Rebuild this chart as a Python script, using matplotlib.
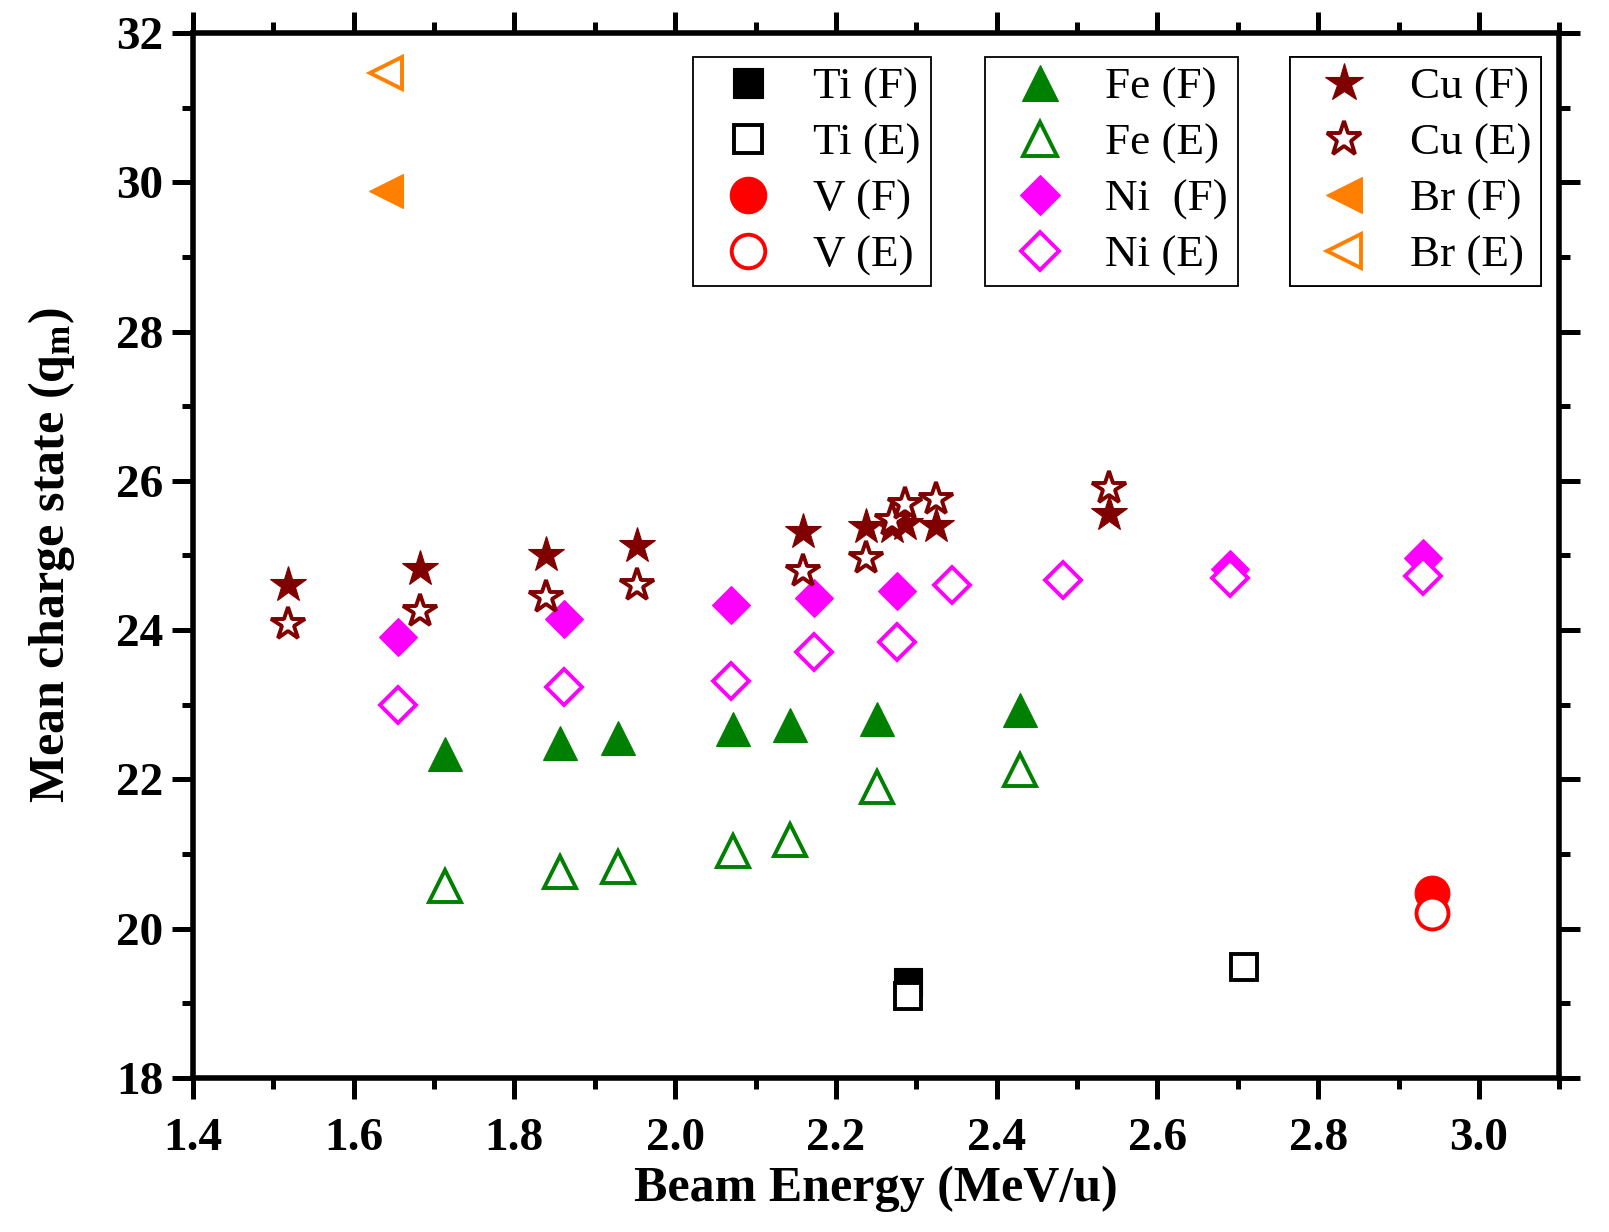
import matplotlib
matplotlib.use("Agg")
import matplotlib.pyplot as plt
from matplotlib.ticker import MultipleLocator

plt.rcParams['font.family'] = ['Liberation Serif', 'DejaVu Serif']
plt.rcParams['mathtext.fontset'] = 'custom'
plt.rcParams['mathtext.rm'] = 'Liberation Serif:bold'
plt.rcParams['mathtext.it'] = 'Liberation Serif:bold'
plt.rcParams['mathtext.bf'] = 'Liberation Serif:bold'

# ---------------- data ----------------
ti_f_x = [2.29]
ti_f_y = [19.28]
ti_e_x = [2.29, 2.708]
ti_e_y = [19.10, 19.49]

v_f_x = [2.942]
v_f_y = [20.48]
v_e_x = [2.942]
v_e_y = [20.21]

fe_x = [1.714, 1.857, 1.929, 2.072, 2.143, 2.251, 2.429]
fe_f_y = [22.34, 22.48, 22.55, 22.67, 22.73, 22.81, 22.93]
fe_e_y = [20.57, 20.76, 20.82, 21.04, 21.18, 21.90, 22.13]

ni_f_x = [1.655, 1.862, 2.070, 2.173, 2.276, 2.69, 2.930]
ni_f_y = [23.91, 24.15, 24.34, 24.43, 24.52, 24.82, 24.96]
ni_e_x = [1.655, 1.862, 2.070, 2.173, 2.276, 2.345, 2.483, 2.69, 2.930]
ni_e_y = [23.00, 23.23, 23.32, 23.70, 23.84, 24.60, 24.67, 24.70, 24.73]

cu_x = [1.518, 1.683, 1.839, 1.952, 2.159, 2.238, 2.270, 2.286, 2.324, 2.540]
cu_f_y = [24.60, 24.82, 25.00, 25.12, 25.31, 25.38, 25.38, 25.42, 25.40, 25.56]
cu_e_y = [24.08, 24.25, 24.44, 24.60, 24.79, 24.97, 25.48, 25.69, 25.76, 25.90]

br_x = [1.640]
br_f_y = [29.88]
br_e_y = [31.47]

labels = ['Ti (F)', 'Ti (E)', 'V (F)', 'V (E)',
          'Fe (F)', 'Fe (E)', 'Ni  (F)', 'Ni (E)',
          'Cu (F)', 'Cu (E)', 'Br (F)', 'Br (E)']

x_ticks = [1.4, 1.6, 1.8, 2.0, 2.2, 2.4, 2.6, 2.8, 3.0]
y_ticks = [18, 20, 22, 24, 26, 28, 30, 32]

# ---------------- figure ----------------
fig = plt.figure(figsize=(16.09, 12.32), dpi=100)
ax = fig.add_axes([0.1198, 0.1252, 0.9692 - 0.1198, 0.9732 - 0.1252])

BLACK = '#000000'
RED = '#FF0000'
GREEN = '#008000'
MAGENTA = '#FF00FF'
MAROON = '#800000'
ORANGE = '#FF8000'
EW = 2.8  # hollow edge width (pt)


def filled(x, y, m, c, ms, lab):
    return ax.plot(x, y, linestyle='none', marker=m, color=c, markersize=ms,
                   markeredgewidth=0.8, markeredgecolor=c, label=lab)[0]


def hollow(x, y, m, c, ms, lab):
    return ax.plot(x, y, linestyle='none', marker=m, markerfacecolor='white',
                   markeredgecolor=c, markersize=ms, markeredgewidth=EW,
                   label=lab)[0]


h = []
h.append(filled(ti_f_x, ti_f_y, 's', BLACK, 20, labels[0]))
h.append(hollow(ti_e_x, ti_e_y, 's', BLACK, 19, labels[1]))
h.append(filled(v_f_x, v_f_y, 'o', RED, 25, labels[2]))
h.append(hollow(v_e_x, v_e_y, 'o', RED, 23, labels[3]))
h.append(filled(fe_x, fe_f_y, '^', GREEN, 25, labels[4]))
h.append(hollow(fe_x, fe_e_y, '^', GREEN, 23, labels[5]))
h.append(filled(ni_f_x, ni_f_y, 'D', MAGENTA, 19.5, labels[6]))
h.append(hollow(ni_e_x, ni_e_y, 'D', MAGENTA, 18, labels[7]))
h.append(filled(cu_x, cu_f_y, '*', MAROON, 27, labels[8]))
h.append(hollow(cu_x, cu_e_y, '*', MAROON, 25, labels[9]))
h.append(filled(br_x, br_f_y, '<', ORANGE, 25, labels[10]))
h.append(hollow(br_x, br_e_y, '<', ORANGE, 23, labels[11]))

# ---------------- axes ----------------
ax.set_xlim(1.4, 3.1)
ax.set_ylim(18, 32)
ax.set_xticks(x_ticks)
ax.set_xticklabels([f'{v:.1f}' for v in x_ticks])
ax.set_yticks(y_ticks)
ax.set_yticklabels([str(v) for v in y_ticks])
ax.xaxis.set_minor_locator(MultipleLocator(0.1))
ax.yaxis.set_minor_locator(MultipleLocator(1))

for s in ax.spines.values():
    s.set_linewidth(4.0)

ax.tick_params(which='both', direction='out', top=True, right=True,
               width=3.6, labelsize=34)
ax.tick_params(which='major', length=15)
ax.tick_params(which='minor', length=8)
ax.tick_params(axis='x', pad=14)
ax.tick_params(axis='y', pad=6)
for lab in ax.get_xticklabels() + ax.get_yticklabels():
    lab.set_fontweight('bold')

ax.set_xlabel('Beam Energy (MeV/u)', fontsize=36, fontweight='bold', labelpad=4)
ax.set_ylabel(r'Mean charge state (q$_{\mathrm{m}}$)', fontsize=36,
              fontweight='bold', labelpad=28)

# ---------------- legends ----------------
legkw = dict(frameon=True, fancybox=False, fontsize=32.5, loc='upper left',
             handlelength=1.95, handletextpad=0.48, labelspacing=0.33,
             borderpad=0.23, borderaxespad=0.0, markerscale=1.05,
             framealpha=1.0, edgecolor='black')
tops = 0.9775
lefts = [0.3663, 0.5798, 0.8025]
for i, x0 in enumerate(lefts):
    lg = ax.legend(handles=h[4 * i:4 * i + 4], bbox_to_anchor=(x0, tops),
                   **legkw)
    lg.get_frame().set_linewidth(1.3)
    ax.add_artist(lg)

fig.savefig('out.png', dpi=100)
